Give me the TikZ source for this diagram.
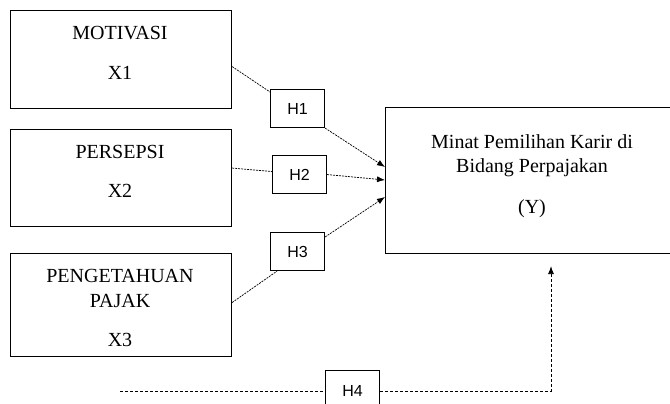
\documentclass[tikz,border=0pt]{standalone}
\usepackage{fontspec}
\setmainfont{Liberation Serif}
\newfontfamily\hfont{Liberation Sans}
\usetikzlibrary{arrows.meta,calc}
\begin{document}
\begin{tikzpicture}[x=1pt,y=-1pt,
  box/.style={draw, line width=1.1pt, rectangle, inner sep=0pt, anchor=north west},
  hbox/.style={draw, line width=1.1pt, rectangle, inner sep=0pt, anchor=north west,
    minimum width=54pt, minimum height=38pt, font=\hfont\fontsize{16}{18}\selectfont},
  lbl/.style={font=\fontsize{20}{22}\selectfont, inner sep=0pt},
  link/.style={line width=0.7pt, dash pattern=on 2pt off 1pt},
  arr/.style={link, -{Latex[length=8pt,width=6pt]}},
  dlink/.style={line width=0.8pt, dash pattern=on 3pt off 2pt}]
\useasboundingbox (0,0) rectangle (670,404);
\fill[white] (0,0) rectangle (670,404);
% variable boxes
\node[box, minimum width=221pt, minimum height=98pt] (x1) at (10,10) {};
\node[box, minimum width=221pt, minimum height=97pt] (x2) at (10,129) {};
\node[box, minimum width=221pt, minimum height=103pt] (x3) at (10,253) {};
\node[box, minimum width=300pt, minimum height=146pt] (y) at (385,107) {};
% texts
\node[lbl] (t1a) at (120,33) {MOTIVASI};
\node[lbl] (t1b) at (120,73) {X1};
\node[lbl] (t2a) at (120,152) {PERSEPSI};
\node[lbl] (t2b) at (120,191) {X2};
\node[lbl] (t3a) at (120,276) {PENGETAHUAN};
\node[lbl] (t3b) at (120,301) {PAJAK};
\node[lbl] (t3c) at (120,340) {X3};
\node[lbl] (ya) at (532,142) {Minat Pemilihan Karir di};
\node[lbl] (yb) at (532,168) {Bidang Perpajakan};
\node[lbl] (yc) at (532,209) {(Y)};
% hypothesis boxes
\node[hbox] (h1) at (270,89) {H1};
\node[hbox] (h2) at (272,155) {H2};
\node[hbox] (h3) at (270,232) {H3};
\node[hbox, minimum height=40pt] (h4) at (325,370) {H4};
% connectors
\draw[link] ([yshift=-7pt]x1.east) -- ([yshift=-3pt]h1.north west);
\draw[arr] (h1.south east) -- ([yshift=-60pt]y.north west);
\draw[link] ([yshift=10pt]x2.east) -- ([yshift=3pt]h2.west);
\draw[arr] (h2.east) -- ([yshift=-73pt]y.north west);
\draw[link] ([yshift=2.5pt]x3.east) -- ([xshift=7pt]h3.south west);
\draw[arr] ([yshift=-5pt]h3.north east) -- ([yshift=-90pt]y.north west);
\coordinate (s4) at (120,391);
\coordinate (e4) at ([xshift=166pt,yshift=-12pt]y.south west);
\draw[dlink] (s4) -- (s4 -| h4.west);
\draw[dlink, -{Latex[length=8pt,width=6pt]}] (s4 -| h4.east) -| (e4);
\end{tikzpicture}
\end{document}
